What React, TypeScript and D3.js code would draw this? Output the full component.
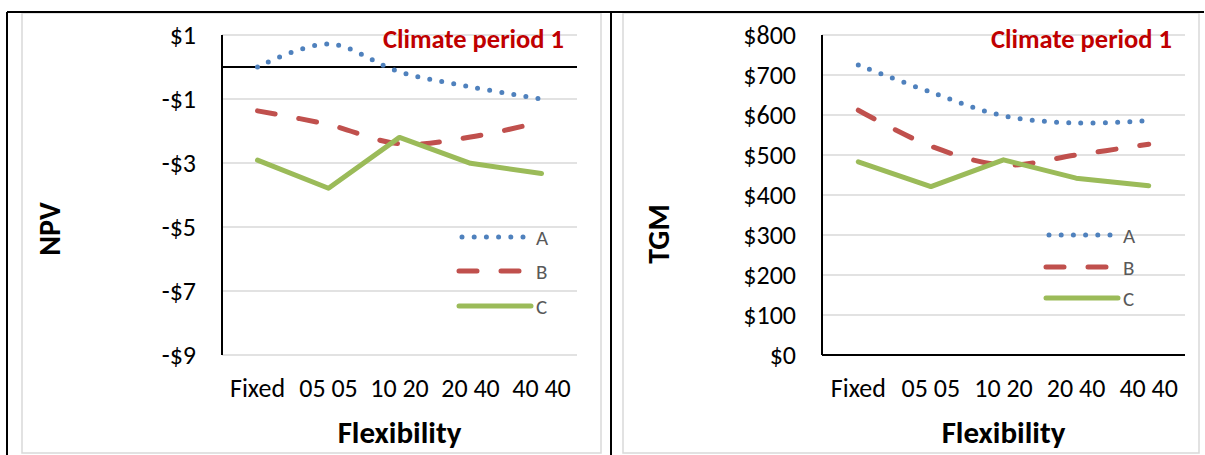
import * as d3 from "d3"

// categories on the x axis
const flexibility = ["Fixed", "05 05", "10 20", "20 40", "40 40"]
const seriesNames = ["A", "B", "C"]

// NPV chart (left)
const npvA = [0.0, 0.72, -0.15, -0.62, -1.0]
const npvB = [-1.37, -1.8, -2.4, -2.19, -1.71]
const npvC = [-2.91, -3.79, -2.2, -3.01, -3.33]
const npvTicks = [1, -1, -3, -5, -7, -9]

// TGM chart (right)
const tgmA = [725, 657, 598, 580, 586]
const tgmB = [612, 522, 475, 500, 527]
const tgmC = [483, 421, 488, 442, 423]
const tgmTicks = [0, 100, 200, 300, 400, 500, 600, 700, 800]

const FONT = "Carlito, Lato, sans-serif"
const GRID = "#d9d9d9"

const seriesStyle = [
  { color: "#4F81BD", width: 5, dash: "0 12.2", smooth: true },
  { color: "#C0504D", width: 5, dash: "18 24", smooth: true },
  { color: "#9BBB59", width: 5, dash: undefined, smooth: false },
]

type ChartProps = {
  left: number
  right: number
  yTitle: string
  yTitleX: number
  yTitleY: number
  values: number[][]
  ticks: number[]
  domain: [number, number]
  axisAt: number
  fmt: (v: number) => string
  legendX: number
  legendRows: number[]
}

const Chart = (p: ChartProps) => {
  const top = 35
  const bottom = 355
  const x = d3.scaleBand().domain(flexibility).range([p.left, p.right])
  const y = d3.scaleLinear().domain(p.domain).range([bottom, top])
  const cx = (i: number) => (x(flexibility[i]) || 0) + x.bandwidth() / 2

  return (
    <g fontFamily={FONT}>
      {/* gridlines */}
      {p.ticks.map((t) => (
        <line key={t} x1={p.left} x2={p.right} y1={y(t)} y2={y(t)} stroke={GRID} strokeWidth={1.5} />
      ))}
      {/* axes */}
      <line x1={p.left} x2={p.right} y1={y(p.axisAt)} y2={y(p.axisAt)} stroke="#000" strokeWidth={2} />
      <line x1={p.left} x2={p.left} y1={top} y2={bottom} stroke="#000" strokeWidth={2} />
      {/* tick labels */}
      {p.ticks.map((t) => (
        <text key={t} x={p.left - 26} y={y(t)} dy="0.36em" textAnchor="end" fontSize={26} fill="#000">
          {p.fmt(t)}
        </text>
      ))}
      {flexibility.map((c, i) => (
        <text key={c} x={cx(i)} y={397} textAnchor="middle" fontSize={26} fill="#000">
          {c}
        </text>
      ))}
      {/* axis titles */}
      <text x={(p.left + p.right) / 2} y={443} textAnchor="middle" fontSize={31} fontWeight="bold">
        Flexibility
      </text>
      <text
        transform={`translate(${p.yTitleX},${p.yTitleY}) rotate(-90)`}
        textAnchor="middle"
        fontSize={30}
        fontWeight="bold"
      >
        {p.yTitle}
      </text>
      {/* series */}
      {p.values.map((vals, s) => {
        const st = seriesStyle[s]
        const line = d3
          .line<number>()
          .x((_, i) => cx(i))
          .y((v) => y(v))
          .curve(st.smooth ? d3.curveCatmullRom.alpha(0.5) : d3.curveLinear)
        return (
          <path
            key={s}
            d={line(vals) || ""}
            fill="none"
            stroke={st.color}
            strokeWidth={st.width}
            strokeDasharray={st.dash}
            strokeLinecap="round"
            strokeLinejoin="round"
          />
        )
      })}
      {/* title */}
      <text x={p.right - 13} y={48} textAnchor="end" fontSize={26.5} fontWeight="bold" fill="#C00000">
        Climate period 1
      </text>
      {/* legend */}
      {seriesNames.map((n, s) => {
        const st = seriesStyle[s]
        const ly = p.legendRows[s]
        return (
          <g key={n}>
            <line
              x1={p.legendX + (s === 0 ? 3 : 0)}
              x2={p.legendX + (s === 0 ? 64 : s === 1 ? 65 : 72)}
              y1={ly}
              y2={ly}
              stroke={st.color}
              strokeWidth={st.width}
              strokeDasharray={st.dash}
              strokeLinecap="round"
            />
            <text x={p.legendX + 77} y={ly} dy="0.36em" fontSize={21} fill="#595959">
              {n}
            </text>
          </g>
        )
      })}
    </g>
  )
}

const npvFmt = (v: number) => (v < 0 ? `-$${-v}` : `$${v}`)
const tgmFmt = (v: number) => `$${v}`

export default function App() {
  return (
    <svg
      width={1205}
      height={455}
      style={{ position: "absolute", left: 0, top: 0, background: "#fff" }}
    >
      {/* chart area borders */}
      <rect x={22} y={13} width={579} height={440} fill="#fff" stroke={GRID} strokeWidth={1.5} />
      <rect x={623} y={13} width={576} height={440} fill="#fff" stroke={GRID} strokeWidth={1.5} />
      {/* table borders */}
      <line x1={7} x2={1204} y1={12} y2={12} stroke="#000" strokeWidth={2} />
      <line x1={7} x2={7} y1={12} y2={455} stroke="#000" strokeWidth={2} />
      <line x1={611} x2={611} y1={12} y2={455} stroke="#000" strokeWidth={2} />

      <Chart
        left={222}
        right={577}
        yTitle="NPV"
        yTitleX={60}
        yTitleY={229}
        values={[npvA, npvB, npvC]}
        ticks={npvTicks}
        domain={[-9, 1]}
        axisAt={0}
        fmt={npvFmt}
        legendX={459}
        legendRows={[237, 271, 306]}
      />
      <Chart
        left={822}
        right={1185}
        yTitle="TGM"
        yTitleX={669}
        yTitleY={234}
        values={[tgmA, tgmB, tgmC]}
        ticks={tgmTicks}
        domain={[0, 800]}
        axisAt={0}
        fmt={tgmFmt}
        legendX={1046}
        legendRows={[235, 267, 298]}
      />
    </svg>
  )
}
